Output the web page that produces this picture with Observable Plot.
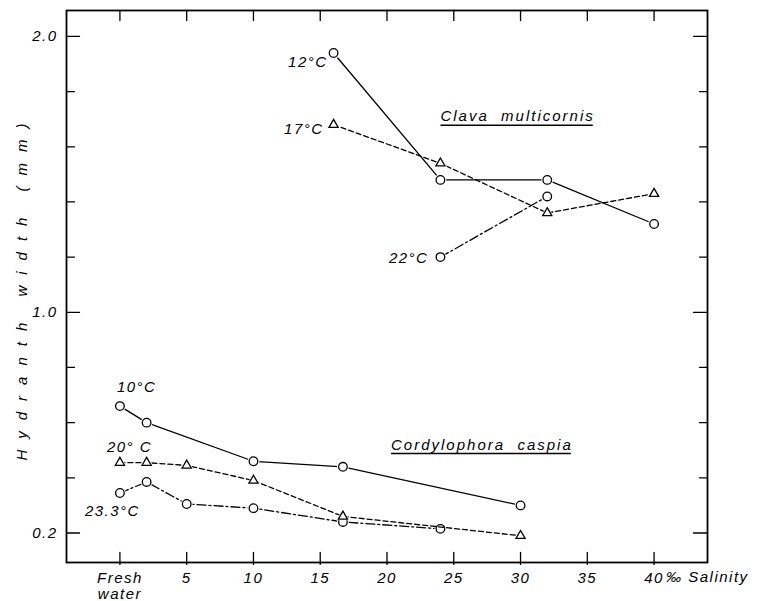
<!DOCTYPE html>
<html>
<head>
<meta charset="utf-8">
<script src="https://cdn.jsdelivr.net/npm/d3@7"></script>
<script src="https://cdn.jsdelivr.net/npm/@observablehq/plot@0.6"></script>
<style>
  html, body { margin: 0; padding: 0; background: #fff; }
  #chart { width: 768px; height: 601px; }
</style>
</head>
<body>
<div id="chart"></div>
<script>
// ---- Data ----
// Clava multicornis
const clavaSalinity = [16, 24, 32, 40];
const clava12C = [1.94, 1.48, 1.48, 1.32];
const clava17C = [1.68, 1.54, 1.36, 1.43];
const clava22Salinity = [24, 32];
const clava22C = [1.20, 1.42];
// Cordylophora caspia
const cord10Salinity = [0, 2, 10, 16.7, 30];
const cord10C = [0.66, 0.60, 0.46, 0.44, 0.30];
const cord20Salinity = [0, 2, 5, 10, 16.7, 30];
const cord20C = [0.455, 0.455, 0.445, 0.39, 0.26, 0.19];
const cord23Salinity = [0, 2, 5, 10, 16.7, 24];
const cord23C = [0.345, 0.385, 0.305, 0.29, 0.24, 0.215];

// Axis ticks and labels
const xTicks = [0, 5, 10, 15, 20, 25, 30, 35, 40];
const xTickLabels = ["Fresh\nwater", "5", "10", "15", "20", "25", "30", "35", "40"];
const yMajorTicks = [0.2, 1.0, 2.0];
const yMinorTicks = [0.4, 0.6, 0.8, 1.2, 1.4, 1.6, 1.8];
const yTickLabels = ["0.2", "1.0", "2.0"];
const xUnitLabel = "\u2030 Salinity";
const yAxisLabel = "Hydranth width (mm)";

// Species annotations
const speciesNames = ["Clava\u00a0\u00a0multicornis", "Cordylophora\u00a0\u00a0caspia"];
const speciesX = [24, 20.3];
const speciesY = [1.71, 0.52];

// ---- Helpers ----
const toRows = (xs, ys) => xs.map((x, i) => ({x, y: ys[i]}));
const xLabelMap = new Map(xTicks.map((t, i) => [t, xTickLabels[i]]));
const yLabelMap = new Map(yMajorTicks.map((t, i) => [t, yTickLabels[i]]));

const tickShape = {draw(ctx, l) { ctx.moveTo(0, 0); ctx.lineTo(0, -l); }};
function inTicks(values, anchor, len) {
  const rot = {bottom: 0, top: 180, left: 90, right: -90}[anchor];
  const ch = (anchor === "bottom" || anchor === "top") ? {x: d => d} : {y: d => d};
  return Plot.vector(values, {...ch, frameAnchor: anchor, length: len, rotate: rot,
    anchor: "start", shape: tickShape, stroke: "black", strokeWidth: 1.3});
}

function series(xs, ys, symbol, dash, r) {
  const rows = toRows(xs, ys);
  return [
    Plot.line(rows, {x: "x", y: "y", stroke: "black", strokeWidth: 1.3, strokeDasharray: dash}),
    Plot.dot(rows, {x: "x", y: "y", r: r + 1.6, fill: "white", stroke: "none", symbol}),
    Plot.dot(rows, {x: "x", y: "y", r, fill: "white", stroke: "black", strokeWidth: 1.3, symbol})
  ];
}

function labelAt(xs, ys, text, opts) {
  return Plot.text([text], {x: [xs[0]], y: [ys[0]], text: [text], fill: "black",
    fontSize: 15, fontStyle: "italic", ...opts});
}

const DASH = "5,3";
const DASHDOT = "9,3,2,3";

const chart = Plot.plot({
  width: 768,
  height: 601,
  marginLeft: 66,
  marginRight: 61,
  marginTop: 10,
  marginBottom: 39,
  x: {domain: [-4, 44]},
  y: {domain: [0.093, 2.094]},
  style: {fontFamily: "'Liberation Sans', Arial, sans-serif", fontStyle: "italic",
          fontSize: "15px", letterSpacing: "1.5px", color: "black", background: "white"},
  marks: [
    // axes ticks
    inTicks(xTicks, "bottom", 10),
    inTicks(xTicks, "top", 10),
    inTicks(yMajorTicks, "left", 13),
    inTicks(yMinorTicks, "left", 8),
    inTicks(yMajorTicks, "right", 14),
    inTicks(yMinorTicks, "right", 8),
    Plot.axisX({ticks: xTicks, tickSize: 3, tickPadding: 6, strokeWidth: 1.3,
      tickFormat: d => xLabelMap.get(d), fontSize: 15, lineHeight: 1.07, label: null}),
    Plot.axisY({ticks: yMajorTicks, tickSize: 0, tickPadding: 9,
      tickFormat: d => yLabelMap.get(d), fontSize: 15, label: null}),
    Plot.text([xUnitLabel], {x: [40], text: [xUnitLabel], frameAnchor: "bottom",
      dx: 12, dy: 9, textAnchor: "start", lineAnchor: "top", fontSize: 15, fill: "black"}),
    Plot.text([yAxisLabel], {text: [yAxisLabel], frameAnchor: "left", rotate: -90,
      textAnchor: "middle", lineAnchor: "middle", dx: -44, fontSize: 15, fill: "black"}),
    Plot.frame({stroke: "black", strokeWidth: 1.8}),

    // Clava multicornis
    ...series(clavaSalinity, clava17C, "triangle", DASH, 3.4),
    ...series(clavaSalinity, clava12C, "circle", null, 4.3),
    ...series(clava22Salinity, clava22C, "circle", DASHDOT, 4.3),
    // Cordylophora caspia
    ...series(cord23Salinity, cord23C, "circle", DASHDOT, 4.3),
    ...series(cord20Salinity, cord20C, "triangle", DASH, 3.4),
    ...series(cord10Salinity, cord10C, "circle", null, 4.3),

    // series labels
    labelAt(clavaSalinity, clava12C, "12°C", {textAnchor: "end", dx: -6, dy: 9}),
    labelAt(clavaSalinity, clava17C, "17°C", {textAnchor: "end", dx: -10, dy: 4}),
    labelAt(clava22Salinity, clava22C, "22°C", {textAnchor: "end", dx: -12, dy: 1}),
    labelAt(cord10Salinity, cord10C, "10°C", {textAnchor: "start", dx: -3, dy: -19}),
    labelAt(cord20Salinity, cord20C, "20° C", {textAnchor: "start", dx: -13, dy: -15}),
    labelAt(cord23Salinity, cord23C, "23.3°C", {textAnchor: "start", dx: -35, dy: 18}),

    // species names
    Plot.text(speciesNames, {x: speciesX, y: speciesY, text: speciesNames,
      textAnchor: "start", fontSize: 15, fill: "black"})
  ]
});

document.getElementById("chart").appendChild(chart);

// post-processing: letter spacing for axis label, underline species names
const svg = d3.select(chart.tagName.toLowerCase() === "svg" ? chart : chart.querySelector("svg"));
svg.selectAll("text").each(function() {
  const t = this.textContent;
  if (t === yAxisLabel) {
    d3.select(this).style("letter-spacing", "11px");
  }
  if (speciesNames.includes(t)) {
    d3.select(this).style("letter-spacing", "2px");
  }
});
svg.selectAll("text").each(function() {
  const t = this.textContent;
  if (speciesNames.includes(t)) {
    const b = this.getBBox();
    const m = this.getCTM();
    const parent = svg.node();
    const pt = parent.createSVGPoint();
    pt.x = b.x; pt.y = b.y + b.height;
    const p0 = pt.matrixTransform(m);
    pt.x = b.x + b.width;
    const p1 = pt.matrixTransform(m);
    svg.append("line")
      .attr("x1", p0.x).attr("x2", p1.x - 2)
      .attr("y1", p0.y + 1).attr("y2", p1.y + 1)
      .attr("stroke", "black").attr("stroke-width", 1.3);
  }
});
</script>
</body>
</html>
